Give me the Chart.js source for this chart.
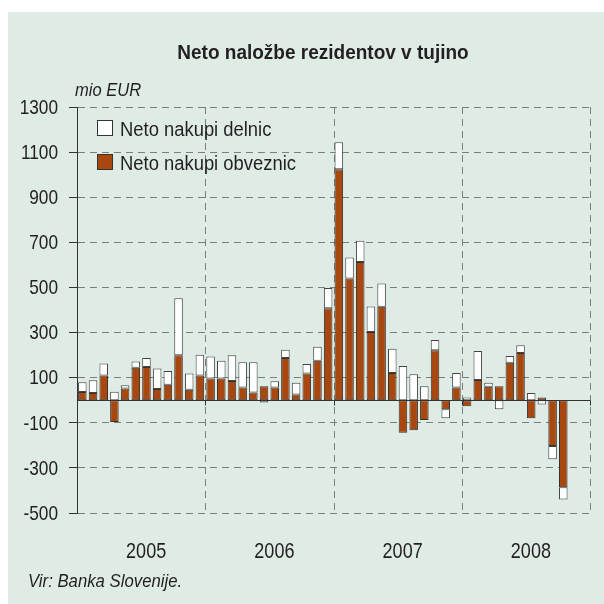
<!DOCTYPE html>
<html>
<head>
<meta charset="utf-8">
<script src="https://cdn.jsdelivr.net/npm/chart.js@4.4.0/dist/chart.umd.min.js"></script>
<style>
  html, body { margin: 0; padding: 0; background: #fff; }
  #wrap { position: relative; width: 604px; height: 604px; overflow: hidden; }
  #panel { position: absolute; left: 8px; top: 12px; right: 0; bottom: 0; background: #deece5; }
  #chart { position: absolute; left: 0; top: 0; }
  .txt {
    position: absolute; white-space: nowrap; line-height: 1; color: #231f20;
    font-family: 'Liberation Sans', Arial, sans-serif;
    transform-origin: 0 0;
  }
  #title { left: 123px; width: 400px; top: 42px; text-align: center; font-size: 20px; font-weight: bold; transform: scaleX(0.95); transform-origin: 200px 0; }
  #unit { left: 75px; top: 81px; font-size: 18px; font-style: italic; transform: scaleX(0.92); }
  #source { left: 28px; top: 572px; font-size: 18px; font-style: italic; transform: scaleX(0.93); }
  .leg { left: 120px; font-size: 20px; transform: scaleX(0.92); }
  .box { position: absolute; left: 97px; width: 14px; height: 14px; border: 1px solid #333; box-sizing: content-box; }
</style>
</head>
<body>
<div id="wrap">
  <div id="panel"></div>
  <canvas id="chart" width="604" height="604"></canvas>
  <div class="txt" id="title">Neto naložbe rezidentov v tujino</div>
  <div class="txt" id="unit">mio EUR</div>
  <div class="box" style="top:120px;background:#fff"></div>
  <div class="txt leg" style="top:119px">Neto nakupi delnic</div>
  <div class="box" style="top:154px;background:#a8470f"></div>
  <div class="txt leg" style="top:153px">Neto nakupi obveznic</div>
  <div class="txt" id="source">Vir: Banka Slovenije.</div>
</div>
<script>
const FONT = "'Liberation Sans', Arial, sans-serif";
const NARROW = 0.82; // Arial Narrow look

// monthly data, Jan 2005 - Dec 2008 (mio EUR)
const years = ['2005', '2006', '2007', '2008'];
const months = [];
years.forEach(y => { for (let m = 1; m <= 12; m++) months.push(y + '-' + (m < 10 ? '0' + m : m)); });

// Neto nakupi obveznic
const bonds = [
  37, 32, 110, -96, 52, 144, 147, 50, 69, 199, 46, 110,
  96, 96, 85, 56, 34, 62, 56, 187, 25, 118, 175, 408,
  1024, 540, 613, 303, 414, 121, -144, -133, -88, 222, -40, 56,
  -27, 90, 60, 62, 166, 209, -80, 12, -203, -386, null, null
];

// Neto nakupi delnic
const stocks = [
  43, 56, 53, 38, 14, 28, 40, 91, 61, 253, 72, 92,
  98, 79, 114, 112, 134, -10, 28, 37, 52, 43, 62, 90,
  120, 93, 94, 112, 103, 107, 152, 115, 62, 45, -40, 65,
  12, 128, 17, -40, 30, 35, 32, -19, -59, -54, null, null
];

const yTicks = [1300, 1100, 900, 700, 500, 300, 100, -100, -300, -500];

function narrowText(ctx, str, x, y) {
  ctx.save();
  ctx.translate(x, y);
  ctx.scale(NARROW, 1);
  ctx.fillText(str, 0, 0);
  ctx.restore();
}

function yearEdge(chart, k) {
  const { chartArea, scales: { x } } = chart;
  const px = k < years.length
    ? (x.getPixelForValue(12 * k - 1) + x.getPixelForValue(12 * k)) / 2
    : chartArea.right;
  return Math.round(px) + 0.5;
}

// year dividers, zero line, tick and year labels
const yearPlugin = {
  id: 'years',
  beforeDatasetsDraw(chart) {
    const { ctx, chartArea } = chart;
    ctx.save();
    ctx.strokeStyle = '#7d7d7d';
    ctx.lineWidth = 1;
    ctx.setLineDash([7, 5]);
    for (let k = 1; k <= years.length; k++) {
      const px = yearEdge(chart, k);
      ctx.beginPath();
      ctx.moveTo(px, chartArea.top);
      ctx.lineTo(px, chartArea.bottom);
      ctx.stroke();
    }
    ctx.restore();
  },
  afterDatasetsDraw(chart) {
    const { ctx, chartArea, scales: { x, y } } = chart;
    const y0 = Math.round(y.getPixelForValue(0)) + 0.5;
    ctx.save();
    ctx.strokeStyle = '#333';
    ctx.lineWidth = 1;
    ctx.beginPath();
    ctx.moveTo(chartArea.left, y0);
    ctx.lineTo(chartArea.right, y0);
    for (let k = 1; k <= years.length; k++) {
      const px = yearEdge(chart, k);
      ctx.moveTo(px, y0);
      ctx.lineTo(px, y0 + 5);
    }
    ctx.stroke();

    ctx.fillStyle = '#231f20';

    // y tick labels
    ctx.font = '21px ' + FONT;
    ctx.textAlign = 'right';
    ctx.textBaseline = 'middle';
    yTicks.forEach(v => narrowText(ctx, String(v), chartArea.left - 19, y.getPixelForValue(v) + 1));

    // year labels
    ctx.font = '22px ' + FONT;
    ctx.textAlign = 'center';
    ctx.textBaseline = 'alphabetic';
    years.forEach((yr, k) => {
      const cx = (x.getPixelForValue(12 * k + 5) + x.getPixelForValue(12 * k + 6)) / 2 + 5;
      narrowText(ctx, yr, cx, 558);
    });
    ctx.restore();
  }
};

const ctx = document.getElementById('chart').getContext('2d');
new Chart(ctx, {
  type: 'bar',
  data: {
    labels: months,
    datasets: [{
      label: 'Neto nakupi obveznic',
      data: bonds,
      backgroundColor: '#a8470f',
      borderColor: '#333',
      borderWidth: 1,
      borderSkipped: false,
      barPercentage: 0.8,
      categoryPercentage: 1
    }, {
      label: 'Neto nakupi delnic',
      data: stocks,
      backgroundColor: '#ffffff',
      borderColor: '#444',
      borderWidth: 1,
      borderSkipped: false,
      barPercentage: 0.8,
      categoryPercentage: 1
    }]
  },
  options: {
    responsive: false,
    maintainAspectRatio: false,
    animation: false,
    layout: { padding: { top: 107, right: 14, bottom: 91, left: 0 } },
    plugins: {
      legend: { display: false },
      tooltip: { enabled: false },
      title: { display: false }
    },
    scales: {
      x: { stacked: true, display: false },
      y: {
        stacked: true,
        min: -500,
        max: 1300,
        afterBuildTicks: s => { s.ticks = yTicks.map(v => ({ value: v })); },
        afterFit: s => { s.width = 77; },
        grid: { color: '#7d7d7d', lineWidth: 1, tickLength: 8, tickColor: '#333' },
        border: { display: true, color: '#333', width: 1, dash: [7, 5] },
        ticks: { display: false }
      }
    }
  },
  plugins: [yearPlugin]
});
</script>
</body>
</html>
